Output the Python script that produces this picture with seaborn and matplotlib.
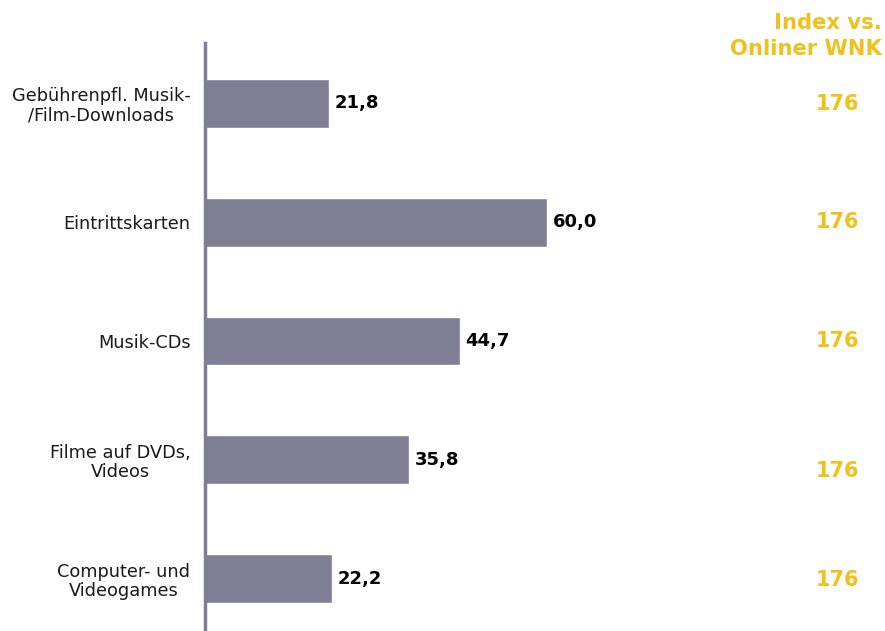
import matplotlib
matplotlib.use("Agg")
import matplotlib.pyplot as plt
import seaborn as sns
import pandas as pd

# Spending categories and shares
categories = [
    "Gebührenpfl. Musik-\n/Film-Downloads",
    "Eintrittskarten",
    "Musik-CDs",
    "Filme auf DVDs,\nVideos",
    "Computer- und\nVideogames",
]
values = [21.8, 60.0, 44.7, 35.8, 22.2]
index_values = [176, 176, 176, 176, 176]
index_header = "Index vs.\nOnliner WNK"

BAR = "#7e7e94"
GOLD = "#f2c01a"

sns.set_theme(style="white")
plt.rcParams["font.family"] = ["DejaVu Sans"]

df = pd.DataFrame({"cat": categories, "val": values})

W, H = 885, 631
fig = plt.figure(figsize=(W / 100, H / 100), dpi=100)
ax_left, ax_right, ax_top = 205, 700, 43
ax = fig.add_axes([ax_left / W, 0, (ax_right - ax_left) / W, (H - ax_top) / H])

sns.barplot(data=df, y="cat", x="val", orient="h", color=BAR,
            width=0.41, saturation=1, ax=ax)

px_per_unit = 5.7
ax.set_xlim(0, (ax_right - ax_left) / px_per_unit)
ax.set_ylim(4.442, -0.509)

for s in ["top", "right", "bottom"]:
    ax.spines[s].set_visible(False)
ax.spines["left"].set_color(BAR)
ax.spines["left"].set_linewidth(2.5)
ax.set_xticks([])
ax.set_xlabel("")
ax.set_ylabel("")
ax.tick_params(axis="y", length=0, pad=10.5)
for lbl in ax.get_yticklabels():
    lbl.set_fontsize(12.8)
    lbl.set_multialignment("center")
    lbl.set_color("#1a1a1a")
    lbl.set_linespacing(1.1)

# value labels at bar ends
for i, v in enumerate(values):
    ax.text(v + 1.0, i, f"{v:.1f}".replace(".", ","), va="center", ha="left",
            fontsize=13, fontweight="bold", color="black")

# index column on the right
index_dy = [0, 0, 0, 11, 1.5]
for i, iv in enumerate(index_values):
    ypix = 103.5 + i * 118.75 + index_dy[i]
    fig.text(837 / W, 1 - ypix / H, str(iv), ha="center", va="center",
             fontsize=15, fontweight="bold", color=GOLD)

fig.text(882 / W, 1 - 36 / H, index_header, ha="right", va="center",
         fontsize=15.2, fontweight="bold", color=GOLD, linespacing=1.42)

fig.savefig("out.png", dpi=100)
